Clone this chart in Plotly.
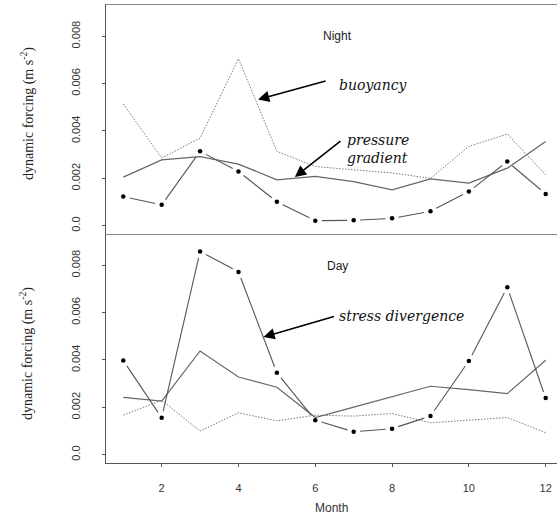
import plotly.graph_objects as go

months = list(range(1, 13))

night_buoyancy = [0.00514, 0.00286, 0.0037, 0.00705, 0.00314, 0.0025, 0.00236, 0.00223, 0.0020, 0.00335, 0.00387, 0.00215]
night_pressure = [0.00205, 0.00278, 0.00292, 0.0026, 0.00194, 0.00208, 0.00186, 0.00151, 0.00198, 0.0018, 0.00243, 0.00356]
night_stress = [0.00123, 0.00088, 0.00314, 0.00229, 0.00101, 0.00021, 0.00023, 0.00031, 0.00061, 0.00144, 0.00271, 0.00134]

day_buoyancy = [0.00167, 0.0023, 0.0010, 0.00177, 0.00143, 0.00167, 0.00163, 0.00174, 0.00135, 0.00146, 0.00157, 0.00093]
day_pressure = [0.00242, 0.00226, 0.00438, 0.00328, 0.00285, 0.00157, 0.00201, 0.00244, 0.00289, 0.00275, 0.00258, 0.00399]
day_stress = [0.00398, 0.00156, 0.00858, 0.00772, 0.00346, 0.00146, 0.00097, 0.0011, 0.00163, 0.00396, 0.00707, 0.00239]

y_tickvals = [0, 0.002, 0.004, 0.006, 0.008]
y_ticktext = ["0.0", "0.002", "0.004", "0.006", "0.008"]
x_tickvals = [2, 4, 6, 8, 10, 12]

W, H = 557, 520
ML, MR, MT, MB = 106, 0, 5, 57
XR = [0.55, 12.295]
YR = [-0.00035, 0.00932]
plot_w = W - ML - MR
panel_h = (H - MT - MB) / 2.0
sx = plot_w / (XR[1] - XR[0])
sy = panel_h / (YR[1] - YR[0])


def gapped(xs, ys, gap=6.5):
    gx, gy = [], []
    for i in range(len(xs) - 1):
        x0, y0, x1, y1 = xs[i], ys[i], xs[i + 1], ys[i + 1]
        dxp = (x1 - x0) * sx
        dyp = (y1 - y0) * sy
        L = (dxp ** 2 + dyp ** 2) ** 0.5
        if L <= 2 * gap:
            continue
        f = gap / L
        gx += [x0 + (x1 - x0) * f, x1 - (x1 - x0) * f, None]
        gy += [y0 + (y1 - y0) * f, y1 - (y1 - y0) * f, None]
    return gx, gy


fig = go.Figure()

panels = [
    ("x2", "y2", night_buoyancy, night_pressure, night_stress),
    ("x", "y", day_buoyancy, day_pressure, day_stress),
]
for xa, ya, b, p, s in panels:
    fig.add_trace(go.Scatter(x=months, y=b, mode="lines", xaxis=xa, yaxis=ya,
                             line=dict(color="#7a7a7a", width=1, dash="1.5px,1.5px"), showlegend=False))
    fig.add_trace(go.Scatter(x=months, y=p, mode="lines", xaxis=xa, yaxis=ya,
                             line=dict(color="#666666", width=1.2), showlegend=False))
    gx, gy = gapped(months, s)
    fig.add_trace(go.Scatter(x=gx, y=gy, mode="lines", xaxis=xa, yaxis=ya, connectgaps=False,
                             line=dict(color="#555555", width=1.1), showlegend=False))
    fig.add_trace(go.Scatter(x=months, y=s, mode="markers", xaxis=xa, yaxis=ya,
                             marker=dict(color="black", size=4.5), showlegend=False))

tickfont = dict(family="Liberation Sans, Arial", size=11, color="#333333")
common_y = dict(range=YR, tickvals=y_tickvals, ticktext=y_ticktext, tickangle=-90,
                ticks="outside", ticklen=3, tickcolor="#555555", tickfont=tickfont,
                showline=True, linecolor="#555555", linewidth=1, showgrid=False,
                zeroline=False, ticklabelstandoff=18)

fig.update_layout(
    width=W, height=H,
    margin=dict(l=ML, r=MR, t=MT, b=MB),
    paper_bgcolor="white", plot_bgcolor="white",
    xaxis=dict(domain=[0, 1], anchor="y", range=XR, tickvals=x_tickvals,
               ticks="outside", ticklen=3, tickcolor="#555555", tickfont=tickfont,
               showline=True, linecolor="#555555", linewidth=1, showgrid=False,
               zeroline=False, ticklabelstandoff=12),
    xaxis2=dict(domain=[0, 1], anchor="y2", range=XR, showticklabels=False, ticks="",
                showline=True, mirror=True, linecolor="#888888", linewidth=1.2,
                showgrid=False, zeroline=False),
    yaxis=dict(domain=[0, 0.5], anchor="x", **common_y),
    yaxis2=dict(domain=[0.5, 1], anchor="x2", **common_y),
)

serif = "Liberation Serif, Times New Roman, serif"
ylabel = "dynamic forcing (m s<sup>-2</sup>)"
for ycen in [0.762, 0.238]:
    fig.add_annotation(text=ylabel, xref="paper", yref="paper", x=(27 - ML) / plot_w, y=ycen,
                       textangle=-90, showarrow=False, xanchor="center", yanchor="middle",
                       font=dict(family=serif, size=14, color="#222222"))

fig.add_annotation(text="Month", xref="paper", yref="paper", x=0.5, y=(H - MB - 508) / (H - MT - MB),
                   showarrow=False, xanchor="center", yanchor="middle",
                   font=dict(family="Liberation Sans, Arial", size=12, color="#333333"))

fig.add_annotation(text="Night", x=6.59, y=0.0080, xref="x2", yref="y2", showarrow=False,
                   font=dict(family="Liberation Sans, Arial", size=12, color="#222222"))
fig.add_annotation(text="Day", x=6.59, y=0.00797, xref="x", yref="y", showarrow=False,
                   font=dict(family="Liberation Sans, Arial", size=12, color="#222222"))

lab_font = dict(family="DejaVu Serif, serif", size=14, color="#111111")
fig.add_annotation(text="<i>buoyancy</i>", x=6.56, y=0.00596, xref="x2", yref="y2",
                   showarrow=False, xanchor="left", yanchor="middle", font=lab_font)
fig.add_annotation(text="<i>pressure</i><br><i>gradient</i>", x=6.77, y=0.00325, xref="x2", yref="y2",
                   showarrow=False, xanchor="left", yanchor="middle", align="left", font=lab_font)
fig.add_annotation(text="<i>stress divergence</i>", x=6.56, y=0.00584, xref="x", yref="y",
                   showarrow=False, xanchor="left", yanchor="middle", font=lab_font)

arrow = dict(showarrow=True, arrowhead=2, arrowsize=1.4, arrowwidth=1.6, arrowcolor="black", text="")
fig.add_annotation(x=4.51, y=0.00533, xref="x2", yref="y2", ax=69, ay=-19, **arrow)
fig.add_annotation(x=5.47, y=0.00206, xref="x2", yref="y2", ax=47, ay=-37, **arrow)
fig.add_annotation(x=4.65, y=0.00497, xref="x", yref="y", ax=72, ay=-21, **arrow)

fig.write_html("out.html")
